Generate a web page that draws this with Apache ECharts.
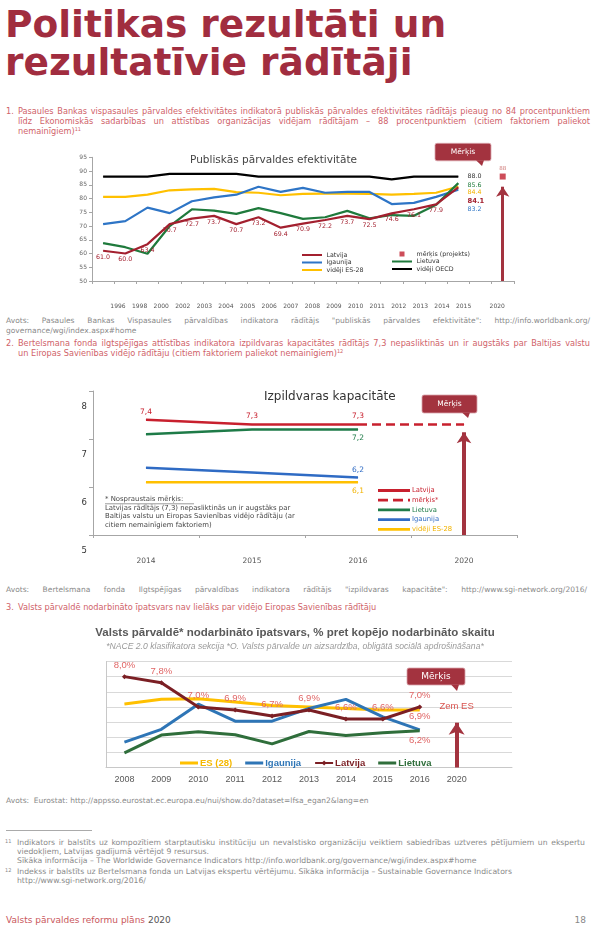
<!DOCTYPE html>
<html><head><meta charset="utf-8">
<script src="https://cdn.jsdelivr.net/npm/echarts@6/dist/echarts.min.js"></script>
<style>
html,body{margin:0;padding:0;background:#fff;}
body{width:600px;height:938px;position:relative;overflow:hidden;font-family:"DejaVu Sans",sans-serif;}
.title{position:absolute;left:5px;top:5px;font-family:"DejaVu Sans";font-weight:bold;font-size:37.5px;line-height:38px;color:#A12D3F;white-space:nowrap;}
.ln{position:absolute;height:10px;line-height:10px;}
.j{text-align:justify;text-align-last:justify;}
.red{color:#D0636A;font-size:8.2px;}
.gray{color:#8a8a8a;font-size:7.5px;}
.fn{color:#8a8a8a;font-size:7.7px;}
sup{font-size:5px;vertical-align:top;position:relative;top:-2px;}
.chart{position:absolute;left:0;width:600px;}
</style></head>
<body>
<div class="title">Politikas rezultāti un<br>rezultatīvie rādītāji</div>

<div class="ln red" style="top:106px;left:6px;">1.</div>
<div class="ln red j" style="top:106px;left:18px;width:572px;">Pasaules Bankas vispasaules pārvaldes efektivitātes indikatorā publiskās pārvaldes efektivitātes rādītājs pieaug no 84 procentpunktiem</div>
<div class="ln red j" style="top:116px;left:18px;width:572px;">līdz Ekonomiskās sadarbības un attīstības organizācijas vidējam rādītājam – 88 procentpunktiem (citiem faktoriem paliekot</div>
<div class="ln red" style="top:126px;left:18px;">nemainīgiem)<sup>11</sup></div>

<div class="ln gray j" style="top:316px;left:6px;width:584px;">Avots: Pasaules Bankas Vispasaules pārvaldības indikatora rādītājs "publiskās pārvaldes efektivitāte": http://info.worldbank.org/</div>
<div class="ln gray" style="top:326px;left:6px;">governance/wgi/index.aspx#home</div>

<div class="ln red" style="top:338px;left:6px;">2.</div>
<div class="ln red j" style="top:338px;left:18px;width:572px;">Bertelsmana fonda ilgtspējīgas attīstības indikatora izpildvaras kapacitātes rādītājs 7,3 nepasliktinās un ir augstāks par Baltijas valstu</div>
<div class="ln red" style="top:348px;left:18px;">un Eiropas Savienības vidējo rādītāju (citiem faktoriem paliekot nemainīgiem)<sup>12</sup></div>

<div class="ln gray j" style="top:585px;left:6px;width:581px;">Avots: Bertelsmana fonda Ilgtspējīgas pārvaldības indikatora rādītājs "izpildvaras kapacitāte": http://www.sgi-network.org/2016/</div>

<div class="ln red" style="top:602px;left:6px;">3.</div>
<div class="ln red" style="top:602px;left:18px;">Valsts pārvaldē nodarbināto īpatsvars nav lielāks par vidējo Eiropas Savienības rādītāju</div>

<div class="ln gray" style="top:796px;left:6px;">Avots:&nbsp; Eurostat: http://appsso.eurostat.ec.europa.eu/nui/show.do?dataset=lfsa_egan2&amp;lang=en</div>

<div style="position:absolute;top:830px;left:6px;width:86px;border-top:1px solid #aaa;"></div>
<div class="ln fn" style="top:838px;left:5px;"><sup>11</sup></div>
<div class="ln fn j" style="top:838px;left:17px;width:568px;">Indikators ir balstīts uz kompozītiem starptautisku institūciju un nevalstisko organizāciju veiktiem sabiedrības uztveres pētījumiem un ekspertu</div>
<div class="ln fn" style="top:847px;left:17px;">viedokļiem, Latvijas gadījumā vērtējot 9 resursus.</div>
<div class="ln fn" style="top:856px;left:17px;">Sīkāka informācija – The Worldwide Governance Indicators http://info.worldbank.org/governance/wgi/index.aspx#home</div>
<div class="ln fn" style="top:867px;left:5px;"><sup>12</sup></div>
<div class="ln fn" style="top:867px;left:17px;">Indekss ir balstīts uz Bertelsmana fonda un Latvijas ekspertu vērtējumu. Sīkāka informācija – Sustainable Governance Indicators</div>
<div class="ln fn" style="top:876px;left:17px;">http://www.sgi-network.org/2016/</div>

<div class="ln" style="top:914px;left:6px;font-size:9px;line-height:12px;height:12px;"><span style="color:#C9575C;">Valsts pārvaldes reformu plāns</span> <span style="color:#555;">2020</span></div>
<div class="ln" style="top:914px;right:14px;font-size:9px;line-height:12px;height:12px;color:#888;">18</div>

<div id="c1" class="chart" style="top:140px;height:175px;"></div>
<div id="c2" class="chart" style="top:360px;height:215px;"></div>
<div id="c3" class="chart" style="top:620px;height:175px;"></div>

<script>
// ---------- Chart 1 data ----------
const c1Years = ['1996','1998','2000','2002','2003','2004','2005','2006','2007','2008','2009','2010','2011','2012','2013','2014','2015'];
const c1Cats = c1Years.concat(['', '2020']);
const c1TickLabels = c1Years.concat(['2020']);
const c1Latvija  = [61.0,60.0,63.4,70.7,72.7,73.7,70.7,73.2,69.4,70.9,72.2,73.7,72.5,74.6,76.1,77.9,84.1];
const c1Igaunija = [70.7,71.8,76.7,74.7,79.0,80.4,81.4,84.3,82.4,83.9,82.1,82.4,82.4,78.0,78.4,80.6,83.2];
const c1ES       = [80.6,80.6,81.4,83.0,83.3,83.5,82.3,82.1,81.2,81.7,81.8,81.8,81.7,81.4,81.7,82.1,84.4];
const c1Lietuva  = [63.8,62.3,59.9,70.0,76.1,75.6,74.4,76.5,74.7,72.6,73.2,75.5,72.8,74.0,73.7,77.7,85.6];
const c1OECD     = [88.0,88.0,88.0,89.0,89.0,89.0,89.0,88.0,88.0,88.0,88.0,88.0,88.0,87.0,88.0,88.0,88.0];
const c1Target = 88;
const c1TargetYear = '2020';

// ---------- Chart 2 data ----------
const c2Cats = ['2014','2015','2016','2020'];
const c2Latvija  = [7.4, 7.3, 7.3];
const c2Target   = [null, null, 7.3, 7.3];
const c2Lietuva  = [7.1, 7.2, 7.2];
const c2Igaunija = [6.4, 6.3, 6.2];
const c2ES       = [6.1, 6.1, 6.1];

// ---------- Chart 3 data ----------
const c3Cats = ['2008','2009','2010','2011','2012','2013','2014','2015','2016','2020',''];
const c3ES       = [7.1, 7.25, 7.27, 7.16, 7.05, 7.0, 6.95, 6.9, 6.9];
const c3Igaunija = [5.84, 6.26, 7.09, 6.53, 6.53, 6.95, 7.25, 6.67, 6.24];
const c3Latvija  = [8.0, 7.8, 7.0, 6.9, 6.7, 6.9, 6.6, 6.6, 7.0];
const c3Lietuva  = [5.48, 6.07, 6.18, 6.08, 5.78, 6.19, 6.06, 6.15, 6.21];

// ---------- helpers ----------
const TGT = '#A3333F';
function lastLabel(arr, opt){
  return arr.map((v,i)=> i===arr.length-1 ? {value:v, label:Object.assign({show:true}, opt)} : v);
}
const comma1 = p => Number(p.value).toFixed(1).replace('.', ',');
const pct = p => Number(p.value).toFixed(1).replace('.', ',') + '%';
function callout(x,y,w,h,tipX,tipY,fs){
  return [
    {type:'rect', shape:{x:x,y:y,width:w,height:h,r:2}, style:{fill:TGT, stroke:'#d9a3ab', lineWidth:0.8}, z:10},
    {type:'polygon', shape:{points:[[tipX-5,y+h-0.5],[tipX+3,y+h-0.5],[tipX+1,tipY]]}, style:{fill:TGT}, z:10},
    {type:'text', x:x+w/2, y:y+h/2, style:{text:'Mērķis', fill:'#fff', fontSize:fs, fontFamily:'DejaVu Sans', align:'center', verticalAlign:'middle'}, z:11}
  ];
}
const ICON1 = 'path://M0,0h0.1v0.1h-0.1z M0,1.9h20v2.2h-20z M19.9,5.9h0.1v0.1h-0.1z';
const ICON1SQ = 'path://M0,0h0.1v0.1h-0.1z M7.5,0.5h5v5h-5z M19.9,5.9h0.1v0.1h-0.1z';
const ICON2 = 'path://M0,0h0.1v0.1h-0.1z M0,1.6h32v2.8h-32z M31.9,5.9h0.1v0.1h-0.1z';
const ICON2D = 'path://M0,0h0.1v0.1h-0.1z M0,1.6h10v2.8h-10z M15,1.6h10v2.8h-10z M30,1.6h2v2.8h-2z M31.9,5.9h0.1v0.1h-0.1z';
const ICON3 = 'path://M0,0h0.1v0.1h-0.1z M0,1.5h18v3h-18z M17.9,5.9h0.1v0.1h-0.1z';

// ================= CHART 1 =================
(function(){
  const RED='#A3202F', BLUE='#2E75C6', YEL='#FFC000', GRN='#1F7A3C', BLK='#000000';
  const lbl = {fontFamily:'DejaVu Sans', fontSize:6.3};
  const base = {type:'line', symbol:'circle', symbolSize:0.5, showSymbol:true, smooth:false, silent:true};
  const ch = echarts.init(document.getElementById('c1'));
  ch.setOption({
    animation:false,
    title:{text:'Publiskās pārvaldes efektivitāte', left:190, top:15, padding:0,
      textStyle:{fontFamily:'DejaVu Sans', fontSize:10.5, fontWeight:'normal', color:'#444'}},
    grid:[{left:92, top:17.3, width:421.8, height:123.7},
          {left:107.2, top:160, width:388.8, height:1}],
    xAxis:[
      {type:'category', data:c1Cats, boundaryGap:true,
        axisLine:{lineStyle:{color:'#a6a6a6'}}, axisTick:{show:true, interval:0, length:3, lineStyle:{color:'#a6a6a6'}},
        axisLabel:{show:false}, splitLine:{show:false}},
      {type:'category', gridIndex:1, data:c1TickLabels, boundaryGap:true,
        axisLine:{show:false}, axisTick:{show:false}, splitLine:{show:false},
        axisLabel:{interval:0, margin:2, fontFamily:'DejaVu Sans', fontSize:6, color:'#555',
          formatter: v => v==='2020' ? '{s|2020}' : v,
          rich:{s:{padding:[0,0,0,24], fontFamily:'DejaVu Sans', fontSize:6, color:'#555'}}}}
    ],
    yAxis:[
      {type:'value', min:50, max:95, interval:5,
        axisLine:{show:true, lineStyle:{color:'#a6a6a6'}}, axisTick:{show:true, length:3, lineStyle:{color:'#a6a6a6'}},
        axisLabel:{fontFamily:'DejaVu Sans', fontSize:6, color:'#666', margin:5}, splitLine:{show:false}},
      {type:'value', gridIndex:1, show:false}
    ],
    legend:[
      {left:302, top:112, orient:'vertical', itemWidth:21, itemHeight:6, itemGap:1.5, padding:0,
        itemStyle:{borderWidth:0}, textStyle:{fontFamily:'DejaVu Sans', fontSize:6.3, lineHeight:6, color:'#333', padding:[0,0,0,-1]},
        data:[{name:'Latvija',icon:ICON1},{name:'Igaunija',icon:ICON1},{name:'vidēji ES-28',icon:ICON1}]},
      {left:392, top:111, orient:'vertical', itemWidth:21, itemHeight:6, itemGap:1.5, padding:0,
        itemStyle:{borderWidth:0}, textStyle:{fontFamily:'DejaVu Sans', fontSize:6.3, lineHeight:6, color:'#333', padding:[0,0,0,-1]},
        data:[{name:'mērķis (projekts)',icon:ICON1SQ},{name:'Lietuva',icon:ICON1},{name:'vidēji OECD',icon:ICON1}]}
    ],
    graphic: callout(435, 3.3, 56, 17.5, 481, 26, 7.5),
    series:[
      Object.assign({}, base, {name:'vidēji OECD', data:lastLabel(c1OECD, {position:'right', distance:9, offset:[0,0], color:'#333'}),
        lineStyle:{width:2.2, color:BLK}, itemStyle:{color:BLK}, label:Object.assign({show:false, formatter:p=>Number(p.value).toFixed(1)}, lbl)}),
      Object.assign({}, base, {name:'vidēji ES-28', data:lastLabel(c1ES, {position:'right', distance:9, offset:[0,5.5], color:'#F2B300'}),
        lineStyle:{width:2.2, color:YEL}, itemStyle:{color:YEL}, label:Object.assign({show:false, formatter:p=>Number(p.value).toFixed(1)}, lbl)}),
      Object.assign({}, base, {name:'Igaunija', data:lastLabel(c1Igaunija, {position:'right', distance:9, offset:[0,20], color:BLUE}),
        lineStyle:{width:2.2, color:BLUE}, itemStyle:{color:BLUE}, label:Object.assign({show:false, formatter:p=>Number(p.value).toFixed(1)}, lbl)}),
      Object.assign({}, base, {name:'Lietuva', data:lastLabel(c1Lietuva, {position:'right', distance:9, offset:[0,2.5], color:GRN}),
        lineStyle:{width:2.2, color:GRN}, itemStyle:{color:GRN}, label:Object.assign({show:false, formatter:p=>Number(p.value).toFixed(1)}, lbl)}),
      Object.assign({}, base, {name:'Latvija', z:5, data:lastLabel(c1Latvija, {position:'right', distance:9, offset:[0,13.5], fontWeight:'bold', fontSize:6.8}),
        lineStyle:{width:2.2, color:RED}, itemStyle:{color:RED},
        label:Object.assign({show:true, position:'bottom', distance:3, color:RED, formatter:p=>Number(p.value).toFixed(1)}, lbl)}),
      {name:'mērķis (projekts)', type:'scatter', silent:true, data:[[c1TargetYear, c1Target]], symbol:'rect', symbolSize:6,
        itemStyle:{color:'#C0202F'},
        label:{show:true, position:'top', distance:2, fontFamily:'DejaVu Sans', fontSize:5.5, color:'#C0504D', formatter:p=>String(p.value[1])},
        markLine:{silent:true, symbol:['none','arrow'], symbolSize:10, label:{show:false},
          lineStyle:{type:'solid', width:3, color:TGT}, itemStyle:{color:TGT},
          data:[[{coord:[c1TargetYear,50]},{coord:[c1TargetYear,84.3]}]]}}
    ]
  });
})();

// ================= CHART 2 =================
(function(){
  const RED='#C8202E', BLUE='#2F6BC4', YEL='#FFC000', GRN='#1E7B48';
  const lbl = {fontFamily:'DejaVu Sans', fontSize:7.5, formatter:comma1};
  const base = {type:'line', symbol:'circle', symbolSize:0.5, showSymbol:true, silent:true};
  const ch = echarts.init(document.getElementById('c2'));
  ch.setOption({
    animation:false,
    title:{text:'Izpildvaras kapacitāte', left:264, top:31, padding:0,
      textStyle:{fontFamily:'DejaVu Sans', fontSize:12, fontWeight:'normal', color:'#333'}},
    grid:{left:93, top:31, width:424, height:144},
    xAxis:{type:'category', data:c2Cats, boundaryGap:true,
      axisLine:{lineStyle:{color:'#a6a6a6'}}, axisTick:{show:true, length:3, lineStyle:{color:'#a6a6a6'}},
      axisLabel:{margin:22, fontFamily:'DejaVu Sans', fontSize:7.5, color:'#555'}},
    yAxis:{type:'value', min:5, max:8, interval:1,
      axisLine:{show:true, lineStyle:{color:'#a6a6a6'}}, axisTick:{show:true, length:4, lineStyle:{color:'#a6a6a6'}},
      splitLine:{show:false},
      axisLabel:{margin:6, fontFamily:'DejaVu Sans', fontSize:8.5, color:'#333', verticalAlign:'top', lineHeight:31}},
    legend:{left:378, top:127, orient:'vertical', itemWidth:32, itemHeight:6, itemGap:2.7, padding:0,
      itemStyle:{borderWidth:0}, textStyle:{fontFamily:'DejaVu Sans', fontSize:6.8, lineHeight:6, padding:[0,0,0,-3]},
      data:[{name:'Latvija',icon:ICON2,textStyle:{color:RED}},
            {name:'mērķis*',icon:ICON2D,textStyle:{color:RED}},
            {name:'Lietuva',icon:ICON2,textStyle:{color:GRN}},
            {name:'Igaunija',icon:ICON2,textStyle:{color:BLUE}},
            {name:'vidēji ES-28',icon:ICON2,textStyle:{color:'#F2B300'}}]},
    graphic: callout(422, 35, 55, 18, 467, 58, 7.5).concat([
      {type:'text', x:105, y:134.6, style:{text:'* Nospraustais mērķis:\nLatvijas rādītājs (7,3) nepasliktinās un ir augstāks par\nBaltijas valstu un Eiropas Savienības vidējo rādītāju (ar\ncitiem nemainīgiem faktoriem)',
        fontFamily:'DejaVu Sans', fontSize:6.9, fill:'#444', lineHeight:8.8, verticalAlign:'top'}},
      {type:'line', shape:{x1:105, y1:143.8, x2:194, y2:143.8}, style:{stroke:'#555', lineWidth:0.6}}
    ]),
    series:[
      Object.assign({}, base, {name:'vidēji ES-28', data:lastLabel(c2ES, {position:'bottom', distance:5}),
        lineStyle:{width:2.5, color:YEL}, itemStyle:{color:YEL}, label:Object.assign({show:false, color:'#F2B300'}, lbl)}),
      Object.assign({}, base, {name:'Igaunija', data:lastLabel(c2Igaunija, {position:'top', distance:3}),
        lineStyle:{width:2.5, color:BLUE}, itemStyle:{color:BLUE}, label:Object.assign({show:false, color:BLUE}, lbl)}),
      Object.assign({}, base, {name:'Lietuva', data:lastLabel(c2Lietuva, {position:'bottom', distance:4}),
        lineStyle:{width:2.5, color:GRN}, itemStyle:{color:GRN}, label:Object.assign({show:false, color:GRN}, lbl)}),
      Object.assign({}, base, {name:'mērķis*', data:c2Target,
        lineStyle:{width:2.5, color:RED, type:[9,5]}, itemStyle:{color:RED}, label:{show:false},
        markLine:{silent:true, symbol:['none','arrow'], symbolSize:11, label:{show:false},
          lineStyle:{type:'solid', width:4, color:TGT}, itemStyle:{color:TGT},
          data:[[{coord:['2020',5]},{coord:['2020',7.14]}]]}}),
      Object.assign({}, base, {name:'Latvija', data:c2Latvija, z:5,
        lineStyle:{width:2.5, color:RED}, itemStyle:{color:RED}, label:Object.assign({show:true, position:'top', distance:4, color:RED}, lbl)})
    ]
  });
})();

// ================= CHART 3 =================
(function(){
  const RED='#7B1F24', BLUE='#2E75B6', YEL='#FFC000', GRN='#2F6E3B', LBL='#E06666';
  const lbl = {fontFamily:'Liberation Sans', fontSize:9.5, color:LBL, formatter:pct};
  const base = {type:'line', symbol:'circle', symbolSize:0.5, showSymbol:true, silent:true};
  const ch = echarts.init(document.getElementById('c3'));
  ch.setOption({
    animation:false,
    title:{text:'Valsts pārvaldē* nodarbināto īpatsvars, % pret kopējo nodarbināto skaitu',
      subtext:'*NACE 2.0 klasifikatora sekcija *O. Valsts pārvalde un aizsardzība, obligātā sociālā apdrošināšana*',
      left:295, textAlign:'center', top:7, padding:0, itemGap:3,
      textStyle:{fontFamily:'Liberation Sans', fontSize:11.5, fontWeight:'bold', color:'#595959'},
      subtextStyle:{fontFamily:'Liberation Sans', fontSize:8.6, fontStyle:'italic', color:'#9a9a9a'}},
    grid:{left:106, top:41.5, width:406, height:106},
    xAxis:{type:'category', data:c3Cats, boundaryGap:true,
      axisLine:{lineStyle:{color:'#c8c8c8'}}, axisTick:{show:false},
      axisLabel:{margin:8, fontFamily:'Liberation Sans', fontSize:9, color:'#595959'}},
    yAxis:{type:'value', min:5, max:8.5, interval:0.5,
      axisLine:{show:true, lineStyle:{color:'#c8c8c8'}}, axisTick:{show:false}, axisLabel:{show:false},
      splitLine:{show:true, lineStyle:{color:'#d9d9d9', width:1}}},
    legend:{left:180, top:137, itemWidth:18, itemHeight:6, itemGap:13, padding:0,
      itemStyle:{borderWidth:0}, textStyle:{fontFamily:'Liberation Sans', fontSize:9.5, fontWeight:'bold', lineHeight:12, padding:[0,0,0,-3]},
      data:[{name:'ES (28)',icon:ICON3,textStyle:{color:'#F5B800'}},
            {name:'Igaunija',icon:ICON3,textStyle:{color:BLUE}},
            {name:'Latvija',textStyle:{color:RED}},
            {name:'Lietuva',icon:ICON3,textStyle:{color:GRN}}]},
    graphic: callout(407, 48, 58, 17, 456, 71, 9),
    series:[
      Object.assign({}, base, {name:'ES (28)', data:lastLabel(c3ES, {position:'bottom', distance:1}),
        lineStyle:{width:3, color:YEL}, itemStyle:{color:YEL}, label:Object.assign({show:false}, lbl)}),
      Object.assign({}, base, {name:'Igaunija', data:lastLabel(c3Igaunija, {position:'bottom', distance:5}),
        lineStyle:{width:3, color:BLUE}, itemStyle:{color:BLUE}, label:Object.assign({show:false}, lbl)}),
      Object.assign({}, base, {name:'Latvija', data:c3Latvija, symbol:'diamond', symbolSize:5,
        lineStyle:{width:3, color:RED}, itemStyle:{color:RED}, label:Object.assign({show:true, position:'top', distance:4}, lbl),
        markLine:{silent:true, symbol:['none','arrow'], symbolSize:12,
          label:{show:true, position:'end', distance:11, formatter:'Zem ES', fontFamily:'Liberation Sans', fontSize:9.5, color:'#D9534F'},
          lineStyle:{type:'solid', width:4, color:TGT}, itemStyle:{color:TGT},
          data:[[{coord:['2020',5]},{coord:['2020',6.48]}]]}}),
      Object.assign({}, base, {name:'Lietuva', data:c3Lietuva,
        lineStyle:{width:3, color:GRN}, itemStyle:{color:GRN}, label:{show:false}})
    ]
  });
})();
</script>
</body></html>
